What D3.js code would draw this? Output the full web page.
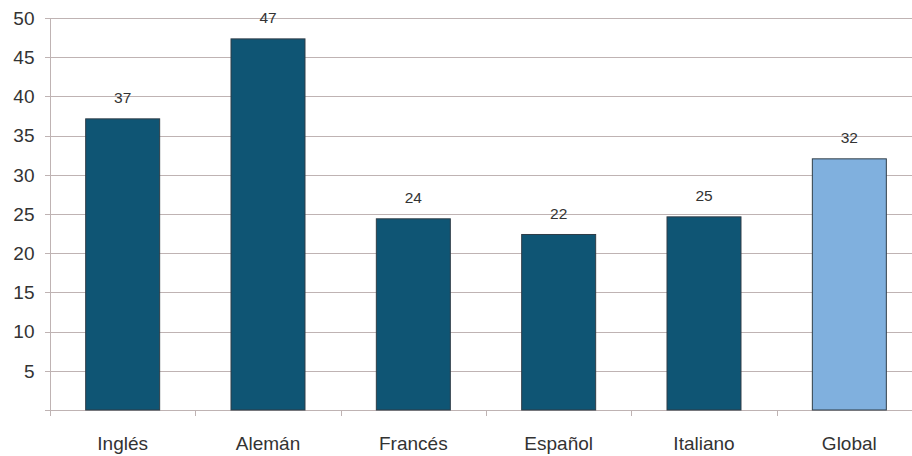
<!DOCTYPE html>
<html><head><meta charset="utf-8">
<script src="https://cdn.jsdelivr.net/npm/d3@7"></script>
<style>body{margin:0;background:#fff}svg{display:block}text{font-family:"Liberation Sans",Arial,sans-serif}</style>
</head><body>
<svg id="c" width="912" height="456"></svg>
<script>
const categories = ["Inglés","Alemán","Francés","Español","Italiano","Global"];
const values = [37.2, 47.4, 24.45, 22.45, 24.7, 32.1];
const labels = ["37","47","24","22","25","32"];
const yTicks = [5,10,15,20,25,30,35,40,45,50];

(function () {
const svg = d3.select("#c");
const mLeft = 50, mRight = 922, mTop = 18, mBottom = 410;
const x = d3.scaleBand().domain(categories).range([mLeft, mRight]).paddingInner(0.484).paddingOuter(0.242);
const y = d3.scaleLinear().domain([0, 50]).range([mBottom, mTop]);
const gridColor = "#bfb3b3";

// gridlines
svg.append("g").selectAll("line").data(yTicks).join("line")
  .attr("x1", mLeft - 5).attr("x2", 912)
  .attr("y1", d => Math.round(y(d)) + 0.5).attr("y2", d => Math.round(y(d)) + 0.5)
  .attr("stroke", gridColor).attr("stroke-width", 1);

// baseline
svg.append("line").attr("x1", mLeft - 5).attr("x2", 912)
  .attr("y1", Math.round(y(0)) + 0.5).attr("y2", Math.round(y(0)) + 0.5)
  .attr("stroke", gridColor);
// y axis line
svg.append("line").attr("x1", mLeft + 0.5).attr("x2", mLeft + 0.5)
  .attr("y1", mTop).attr("y2", mBottom + 6).attr("stroke", gridColor);

// category ticks at band boundaries
const off = (x.step() - x.bandwidth()) / 2;
svg.append("g").selectAll("line").data(categories).join("line")
  .attr("x1", d => Math.round(x(d) - off) + 0.5).attr("x2", d => Math.round(x(d) - off) + 0.5)
  .attr("y1", mBottom).attr("y2", mBottom + 6).attr("stroke", gridColor);

// y tick labels
svg.append("g").selectAll("text").data(yTicks).join("text")
  .attr("x", 34.5).attr("y", d => y(d) + 6.8)
  .attr("text-anchor", "end").attr("font-size", 19).attr("fill", "#333")
  .text(d => d);

// bars
svg.append("g").selectAll("rect").data(categories).join("rect")
  .attr("x", d => x(d) + 0.5).attr("width", x.bandwidth() - 1)
  .attr("y", (d, i) => y(values[i]) + 0.5)
  .attr("height", (d, i) => y(0) - y(values[i]) - 0.5)
  .attr("fill", d => d === "Global" ? "#80b0de" : "#0f5574")
  .attr("stroke", "#2f3d47").attr("stroke-width", 1);

// data labels
svg.append("g").selectAll("text").data(categories).join("text")
  .attr("x", d => x(d) + x.bandwidth() / 2)
  .attr("y", (d, i) => y(values[i]) - 15)
  .attr("text-anchor", "middle").attr("font-size", 15.5).attr("fill", "#333")
  .text((d, i) => labels[i]);

// category labels
svg.append("g").selectAll("text").data(categories).join("text")
  .attr("x", d => x(d) + x.bandwidth() / 2).attr("y", 450)
  .attr("text-anchor", "middle").attr("font-size", 19).attr("fill", "#333")
  .text(d => d);
})();
</script>
</body></html>
